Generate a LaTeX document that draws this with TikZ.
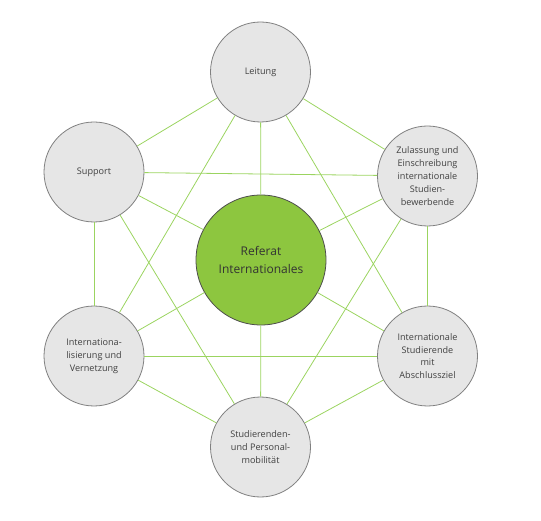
\documentclass[tikz,border=0pt]{standalone}
\usepackage{fontspec}
\setmainfont{Open Sans}
\usepackage{tikz}
\definecolor{linegreen}{RGB}{155,212,96}
\definecolor{hubgreen}{RGB}{141,198,63}
\definecolor{ringgray}{RGB}{230,230,230}
\definecolor{rimgray}{RGB}{128,128,128}
\definecolor{textgray}{RGB}{64,64,64}
\tikzstyle{vertex}=[circle,draw=rimgray,fill=ringgray,line width=0.8pt,minimum size=100pt,inner sep=0pt,align=center,text=textgray,font=\fontsize{9.1}{12.8}\selectfont]
\tikzstyle{hub}=[circle,draw=black!70,fill=hubgreen,line width=0.8pt,minimum size=130pt,inner sep=0pt,align=center,text=black!80,font=\fontsize{12}{17.5}\selectfont]
\tikzstyle{edge} = [draw,linegreen,line width=0.8pt,-]

\begin{document}
\begin{tikzpicture}[x=1pt,y=-1pt]
          \useasboundingbox (0,0) rectangle (541,521);
          \node[hub] (z) at (261,260) {Referat\\Internationales};
          \node[vertex] (a) at (260.5,72) {Leitung};
          \node[vertex] (b) at (427.5,176) {Zulassung und\\Einschreibung\\internationale\\Studien-\\bewerbende};
          \node[vertex] (c) at (427.5,356) {Internationale\\Studierende\\mit\\Abschlussziel};
          \node[vertex] (d) at (260.5,447) {Studierenden-\\und Personal-\\mobilität};
          \node[vertex] (e) at (94,356) {Internationa-\\lisierung und\\Vernetzung};
          \node[vertex] (f) at (94,172) {Support};
          \draw[edge] (a) to (b);
          \draw[edge] (b) to (c);
          \draw[edge] (c) to (d);
          \draw[edge] (d) to (e);
          \draw[edge] (e) to (f);
          \draw[edge] (f) to (a);
          \draw[edge] (a) to (c);
          \draw[edge] (a) to (e);
          \draw[edge] (b) to (d);
          \draw[edge] (b) to (f);
          \draw[edge] (c) to (e);
          \draw[edge] (d) to (f);
          \draw[edge] (z) to (a);
          \draw[edge] (z) to (b);
          \draw[edge] (z) to (c);
          \draw[edge] (z) to (d);
          \draw[edge] (z) to (e);
          \draw[edge] (z) to (f);
        \end{tikzpicture}
\end{document}
